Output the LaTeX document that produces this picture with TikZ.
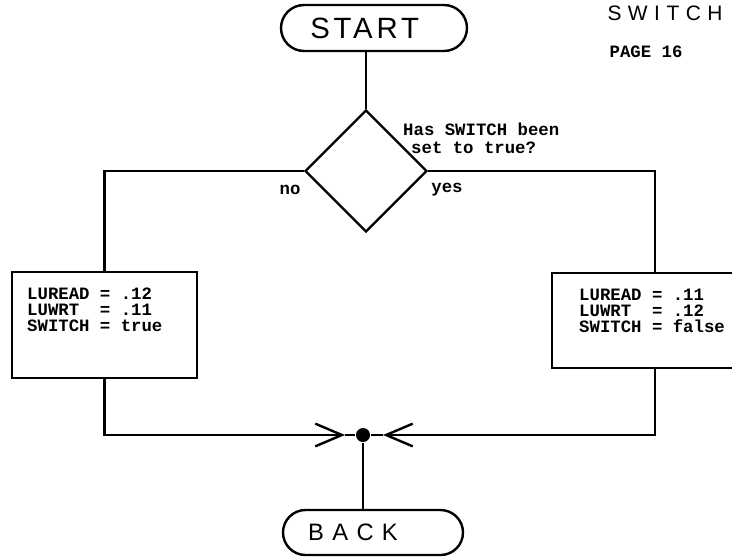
\documentclass[tikz,border=0pt]{standalone}
\usepackage{fontspec}
\usetikzlibrary{shapes.geometric,shapes.misc,arrows.meta}
\newfontfamily\twfont{Liberation Mono}
\newfontfamily\letfont{Liberation Sans}
\begin{document}
\begin{tikzpicture}[x=0.75pt,y=-0.75pt,line width=1.8pt,
  terminal/.style={rounded rectangle,draw,inner sep=0pt},
  decision/.style={diamond,draw,inner sep=0pt,minimum width=91.5pt,minimum height=91.5pt},
  procbox/.style={rectangle,draw,inner sep=0pt},
  twtext/.style={font=\twfont\bfseries\fontsize{13}{11.8}\selectfont,inner sep=0pt},
  barb/.style={-{Straight Barb[length=20pt,width=17pt,line width=1.8pt]}}]
\useasboundingbox (0,0) rectangle (732,557);
% terminals
\node[terminal,minimum width=139.5pt,minimum height=34.5pt] (start) at (374,28)
  {\letfont\fontsize{22}{22}\selectfont\addfontfeature{LetterSpace=13}START\hspace*{14pt}};
\node[terminal,minimum width=135pt,minimum height=33.75pt] (back) at (373,532.5)
  {\letfont\fontsize{17.8}{18}\selectfont\addfontfeature{LetterSpace=35}BACK\hspace*{30pt}};
% decision
\node[decision] (dec) at (366,171) {};
% process boxes
\node[procbox,minimum width=138.75pt,minimum height=79.5pt] (lbox) at (104.5,325) {};
\node[procbox,minimum width=154.5pt,minimum height=71.25pt] (rbox) at (655,320.5) {};
\node[twtext,anchor=north west,align=left] (ltext) at (26,287)
  {LUREAD = .12\\LUWRT~ = .11\\SWITCH = true};
\node[twtext,anchor=north west,align=left] (rtext) at (578,288)
  {LUREAD = .11\\LUWRT~ = .12\\SWITCH = false};
% junction
\node[circle,fill,inner sep=0pt,minimum size=10.5pt] (jn) at (363,435) {};
\coordinate (ltip) at (345,435);
\coordinate (rtip) at (383,435);
% labels
\node[twtext,anchor=north west,align=left,font=\twfont\bfseries\fontsize{13}{13.5}\selectfont] (q) at (402,122)
  {Has SWITCH been\\\hspace*{6pt}set to true?};
\node[twtext] (no) at (290,190) {no};
\node[twtext] (yes) at (447,190) {yes};
\node[twtext] (page) at (646,52) {PAGE 16};
\node[inner sep=0pt,font=\letfont\fontsize{15.7}{16}\selectfont] (title) at (665,13)
  {\addfontfeature{LetterSpace=31}SWITCH};
% connectors
\draw (start.south -| dec.north) -- (dec.north);
\draw (dec.west) -| (lbox.north);
\draw (dec.east) -| (rbox.north);
\draw[barb] (lbox.south) |- (ltip);
\draw (ltip) -- (jn);
\draw[barb] (rbox.south) |- (rtip);
\draw (rtip) -- (jn);
\draw (jn) -- (jn |- back.north);
\end{tikzpicture}
\end{document}
